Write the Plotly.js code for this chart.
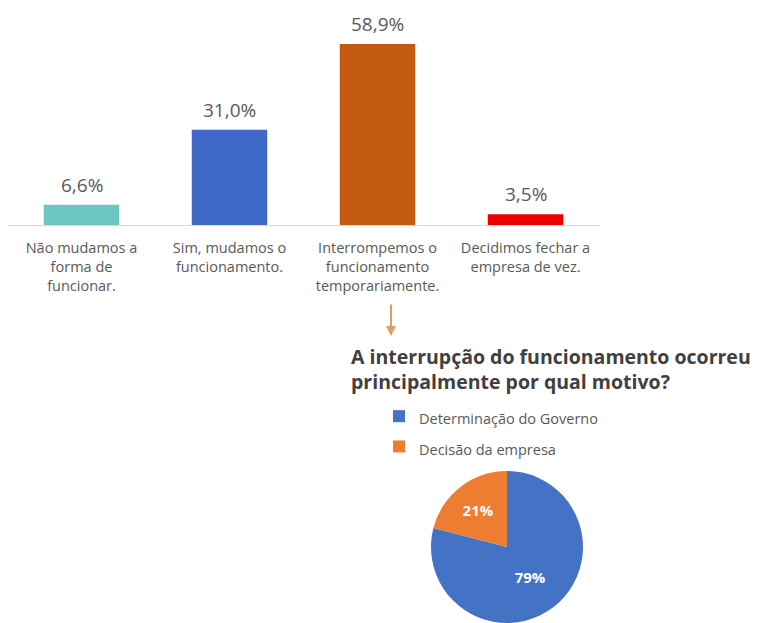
<!DOCTYPE html>
<html>
<head>
<meta charset="utf-8">
<script src="https://cdn.plot.ly/plotly-3.0.1.min.js"></script>
<style>html,body{margin:0;padding:0;background:#fff;}#chart{width:760px;height:623px;}</style>
</head>
<body>
<div id="chart"></div>
<script>
// Bar chart data
const barCategories = [
  "Não mudamos a<br>forma de<br>funcionar.",
  "Sim, mudamos o<br>funcionamento.",
  "Interrompemos o<br>funcionamento<br>temporariamente.",
  "Decidimos fechar a<br>empresa de vez."
];
const barValues = [6.6, 31.0, 58.9, 3.5];
const barLabels = ["6,6%", "31,0%", "58,9%", "3,5%"];
const barColors = ["#6CC5C0", "#3E69C6", "#C55A11", "#EE0000"];

// Pie chart data
const pieLabels = ["Determinação do Governo", "Decisão da empresa"];
const pieValues = [79, 21];
const pieColors = ["#4472C4", "#ED7D31"];

const W = 760, H = 623;
const px = x => x / W;
const py = y => 1 - y / H;

const barTrace = {
  type: "bar",
  x: barCategories,
  y: barValues,
  marker: { color: barColors },
  hoverinfo: "skip",
  showlegend: false,
  xaxis: "x", yaxis: "y"
};

const pieTrace = {
  type: "pie",
  labels: pieLabels.map(l => '<span style="font-size:14.5px">' + l + '</span>'),
  values: pieValues,
  sort: false,
  direction: "clockwise",
  rotation: 0,
  marker: { colors: pieColors, line: { color: "#ffffff", width: 0 } },
  textinfo: "percent",
  texttemplate: "%{percent:.0%}",
  textposition: "inside",
  insidetextfont: { color: "#ffffff", family: "Open Sans", size: 15, weight: "bold" },
  domain: { x: [px(429), px(585)], y: [0, py(471)] },
  showlegend: true,
  hoverinfo: "skip"
};

const annotations = barCategories.map((c, i) => ({
  x: c, y: barValues[i], xref: "x", yref: "y",
  text: barLabels[i], showarrow: false,
  yanchor: "middle", yshift: 20,
  font: { family: "Open Sans", size: 19, color: "#595959" }
}));

annotations.push({
  xref: "paper", yref: "paper", x: px(349), y: py(368.5),
  xanchor: "left", yanchor: "middle", align: "left",
  text: "<b>A interrupção do funcionamento ocorreu<br>principalmente por qual motivo?</b>",
  showarrow: false,
  font: { family: "Open Sans", size: 19.5, color: "#404040" }
});

annotations.push({
  xref: "paper", yref: "paper", x: px(391), y: py(336),
  axref: "pixel", ayref: "pixel", ax: 0, ay: -33,
  text: "", showarrow: true, arrowhead: 2, arrowsize: 1, arrowwidth: 2,
  arrowcolor: "#E39A63"
});

const layout = {
  width: W, height: H,
  margin: { l: 0, r: 0, t: 0, b: 0 },
  paper_bgcolor: "#ffffff",
  plot_bgcolor: "#ffffff",
  bargap: 0.49,
  xaxis: {
    domain: [px(7.5), px(599.5)],
    showline: true, linecolor: "#D9D9D9", linewidth: 1,
    showgrid: false, zeroline: false,
    ticks: "", ticklabelstandoff: 10,
    tickfont: { family: "Open Sans", size: 14.5, color: "#595959" },
    fixedrange: true
  },
  yaxis: {
    domain: [py(225), py(20)],
    range: [0, 66.7],
    visible: false, showgrid: false, zeroline: false,
    fixedrange: true
  },
  legend: {
    x: px(379), y: py(396), xanchor: "left", yanchor: "top",
    font: { family: "Open Sans", size: 21, color: "#595959" },
    itemwidth: 30, tracegroupgap: 0,
    bgcolor: "rgba(0,0,0,0)"
  },
  annotations: annotations,
  showlegend: true
};

Plotly.newPlot("chart", [barTrace, pieTrace], layout, { displayModeBar: false, staticPlot: true });
</script>
</body>
</html>
